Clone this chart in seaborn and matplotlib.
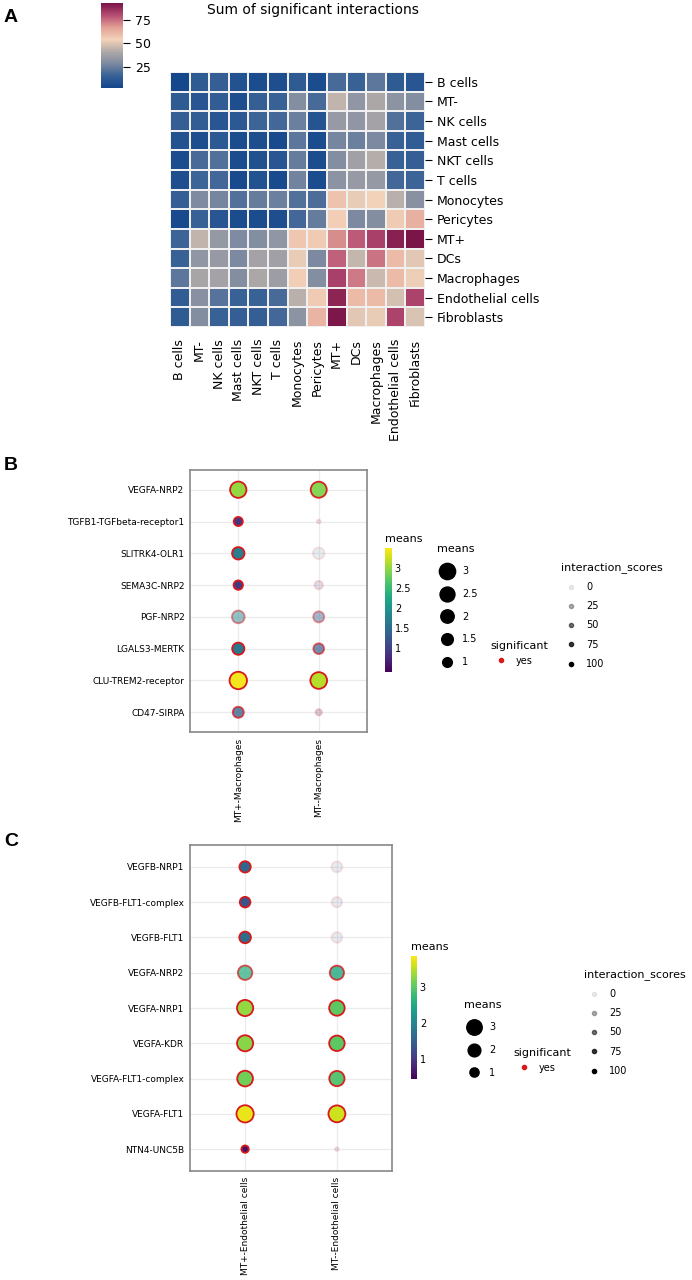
import numpy as np
import pandas as pd
import matplotlib
matplotlib.use("Agg")
import matplotlib.pyplot as plt
import seaborn as sns
from matplotlib.colors import LinearSegmentedColormap, Normalize
from matplotlib.cm import ScalarMappable
from matplotlib.lines import Line2D

# ---- panel A data: sum of significant interactions ----
cell_types = ["B cells", "MT-", "NK cells", "Mast cells", "NKT cells", "T cells",
              "Monocytes", "Pericytes", "MT+", "DCs", "Macrophages",
              "Endothelial cells", "Fibroblasts"]
counts = [
    [3, 12, 14, 8, 5, 6, 12, 5, 18, 15, 22, 12, 10],
    [12, 10, 13, 6, 14, 15, 30, 18, 44, 33, 40, 32, 30],
    [14, 13, 10, 11, 16, 17, 25, 9, 35, 33, 38, 20, 16],
    [8, 6, 11, 5, 6, 4, 22, 5, 27, 25, 28, 15, 13],
    [5, 18, 20, 5, 7, 10, 24, 5, 30, 37, 42, 15, 14],
    [6, 16, 17, 4, 8, 4, 26, 5, 32, 35, 34, 17, 16],
    [14, 29, 27, 20, 24, 25, 20, 19, 58, 52, 54, 43, 31],
    [4, 15, 10, 5, 5, 6, 17, 24, 55, 28, 30, 56, 63],
    [16, 44, 34, 29, 30, 33, 57, 56, 70, 78, 83, 90, 93],
    [15, 33, 35, 28, 38, 37, 52, 28, 77, 45, 74, 60, 51],
    [22, 39, 38, 30, 40, 36, 55, 30, 83, 73, 46, 60, 53],
    [13, 31, 21, 15, 15, 18, 43, 56, 89, 60, 60, 48, 82],
    [12, 30, 15, 14, 14, 17, 32, 62, 92, 51, 52, 82, 49],
]

# ---- panel B data: MT+/MT- macrophages ----
b_interactions = ["CD47-SIRPA", "CLU-TREM2-receptor", "LGALS3-MERTK", "PGF-NRP2",
                  "SEMA3C-NRP2", "SLITRK4-OLR1", "TGFB1-TGFbeta-receptor1", "VEGFA-NRP2"]
b_pairs = ["MT+-Macrophages", "MT--Macrophages"]
b_means_pos = [1.33, 3.45, 1.64, 1.8, 0.93, 1.7, 0.87, 3.0]
b_means_neg = [0.4, 3.15, 1.24, 1.33, 0.75, 1.5, 0.1, 2.9]
b_scores_pos = [75, 100, 100, 45, 100, 100, 100, 100]
b_scores_neg = [12, 100, 65, 40, 8, 4, 4, 95]

# ---- panel C data: MT+/MT- endothelial cells ----
c_interactions = ["NTN4-UNC5B", "VEGFA-FLT1", "VEGFA-FLT1-complex", "VEGFA-KDR",
                  "VEGFA-NRP1", "VEGFA-NRP2", "VEGFB-FLT1", "VEGFB-FLT1-complex", "VEGFB-NRP1"]
c_pairs = ["MT+-Endothelial cells", "MT--Endothelial cells"]
c_means_pos = [0.6, 3.75, 3.1, 3.25, 3.3, 2.6, 1.65, 1.35, 1.55]
c_means_neg = [0.1, 3.6, 2.9, 3.0, 3.0, 2.5, 1.4, 1.3, 1.45]
c_scores_pos = [100, 100, 100, 100, 100, 70, 100, 100, 100]
c_scores_neg = [4, 100, 95, 100, 100, 80, 4, 4, 4]

score_levels = [0, 25, 50, 75, 100]

W, H = 692, 1280
RED = "#d7191c"
sns.set_style("white")
plt.rcParams["font.family"] = ["DejaVu Sans"]
plt.rcParams["text.color"] = "black"
plt.rcParams["xtick.color"] = "black"
plt.rcParams["ytick.color"] = "black"
plt.rcParams["axes.labelcolor"] = "black"

fig = plt.figure(figsize=(W / 100, H / 100), dpi=100)


def box(l, t, r, b):
    return [l / W, 1 - b / H, (r - l) / W, (b - t) / H]


# ---------------- panel A ----------------
heat_cmap = LinearSegmentedColormap.from_list(
    "cpdb", ["#13468b", "#386196", "#7c89a0", "#b0aaa8", "#f2d2b8",
             "#e3a196", "#b54d73", "#7b1447"])
ax_h = fig.add_axes(box(170, 72, 425, 327))
cax_h = fig.add_axes(box(101, 3, 123, 88))
heat_df = pd.DataFrame(counts, index=cell_types, columns=cell_types)
sns.heatmap(heat_df, cmap=heat_cmap, vmin=2, vmax=93, linewidths=1.2,
            linecolor="#f0f0f0", cbar_ax=cax_h, ax=ax_h)
ax_h.yaxis.tick_right()
ax_h.tick_params(axis="y", rotation=0, length=5, labelsize=9, left=False, right=True)
ax_h.tick_params(axis="x", rotation=90, length=5, labelsize=9)
cax_h.set_yticks([25, 50, 75])
cax_h.tick_params(labelsize=9, length=5)
ax_h.collections[0].colorbar.outline.set_visible(False)
fig.text(313 / W, 1 - 10 / H, "Sum of significant interactions", ha="center",
         va="center", fontsize=10)


# ---------------- dot plots ----------------
def dot_panel(ax, cax, interactions, pairs, means, scores, vmin, vmax, smax, cticks):
    df = pd.DataFrame({
        "pair": np.repeat(pairs, len(interactions)),
        "interaction": interactions * len(pairs),
        "means": np.concatenate(means),
        "score": np.concatenate(scores),
    })
    sns.scatterplot(data=df, x="pair", y="interaction", hue="means", size="means",
                    palette="viridis", hue_norm=(vmin, vmax), sizes=(4, 160),
                    size_norm=(0, smax), edgecolor=RED, linewidth=1.3,
                    legend=False, ax=ax, zorder=3)
    pts = ax.collections[-1]
    alpha = 0.08 + 0.92 * df["score"].to_numpy() / 100
    fc = pts.get_facecolors()
    fc[:, 3] = alpha
    pts.set_facecolors(fc)
    ec = np.tile(matplotlib.colors.to_rgba(RED), (len(df), 1))
    ec[:, 3] = alpha
    pts.set_edgecolors(ec)

    n = len(interactions)
    ax.set_xlim(-0.6, 1.6)
    ax.set_ylim(-0.62, n - 1 + 0.62)
    ax.set_xlabel("")
    ax.set_ylabel("")
    ax.grid(True, color="#ebebeb", linewidth=0.9)
    ax.set_axisbelow(True)
    ax.tick_params(length=0, labelsize=6.5, pad=4)
    ax.tick_params(axis="x", rotation=90)
    for s in ax.spines.values():
        s.set_color("#888888")
        s.set_linewidth(1.2)

    sm = ScalarMappable(norm=Normalize(vmin, vmax), cmap="viridis")
    cb = fig.colorbar(sm, cax=cax)
    cb.outline.set_visible(False)
    cb.set_ticks(cticks)
    cb.set_ticklabels([f"{t:g}" for t in cticks])
    cax.tick_params(color="white", direction="in", length=2, width=0.8,
                    left=True, right=True, labelsize=7, pad=2)
    cax.set_title("means", fontsize=8, loc="left", pad=4)


def size_handles(levels, smax):
    return [Line2D([], [], marker="o", linestyle="", color="black",
                   markersize=np.sqrt(4 + 156 * m / smax)) for m in levels]


def add_legends(size_levels, smax, size_xy, sig_xy, score_xy, size_sp):
    common = dict(loc="upper left", frameon=False, fontsize=7, title_fontsize=8,
                  borderpad=0, alignment="left", handletextpad=0.6)
    fig.legend(size_handles(size_levels, smax), [f"{m:g}" for m in size_levels],
               title="means", bbox_to_anchor=(size_xy[0] / W, 1 - size_xy[1] / H),
               labelspacing=size_sp, **common)
    fig.legend([Line2D([], [], marker="o", linestyle="", color=RED, markersize=3)],
               ["yes"], title="significant",
               bbox_to_anchor=(sig_xy[0] / W, 1 - sig_xy[1] / H), **common)
    fig.legend([Line2D([], [], marker="o", linestyle="", color="black", markersize=3,
                       alpha=0.08 + 0.92 * v / 100) for v in score_levels],
               [str(v) for v in score_levels], title="interaction_scores",
               bbox_to_anchor=(score_xy[0] / W, 1 - score_xy[1] / H),
               labelspacing=0.95, **common)


ax_b = fig.add_axes(box(190, 470, 367, 732))
cax_b = fig.add_axes(box(385, 548, 392, 672))
dot_panel(ax_b, cax_b, b_interactions, b_pairs, [b_means_pos, b_means_neg],
          [b_scores_pos, b_scores_neg], 0.4, 3.5, 3.5, [1, 1.5, 2, 2.5, 3])
add_legends([3, 2.5, 2, 1.5, 1], 3.5, (432, 539), (486, 636), (556, 557), 1.3)

ax_c = fig.add_axes(box(190, 845, 392, 1171))
cax_c = fig.add_axes(box(411, 956, 417, 1079))
dot_panel(ax_c, cax_c, c_interactions, c_pairs, [c_means_pos, c_means_neg],
          [c_scores_pos, c_scores_neg], 0.44, 3.86, 3.9, [1, 2, 3])
add_legends([3, 2, 1], 3.9, (459, 995), (509, 1043), (579, 964), 1.3)

for letter, y in [("A", 18), ("B", 465), ("C", 842)]:
    fig.text(4 / W, 1 - y / H, letter, fontsize=14, fontweight="bold",
             family="Liberation Sans", va="center")

fig.savefig("out.png", dpi=100)
